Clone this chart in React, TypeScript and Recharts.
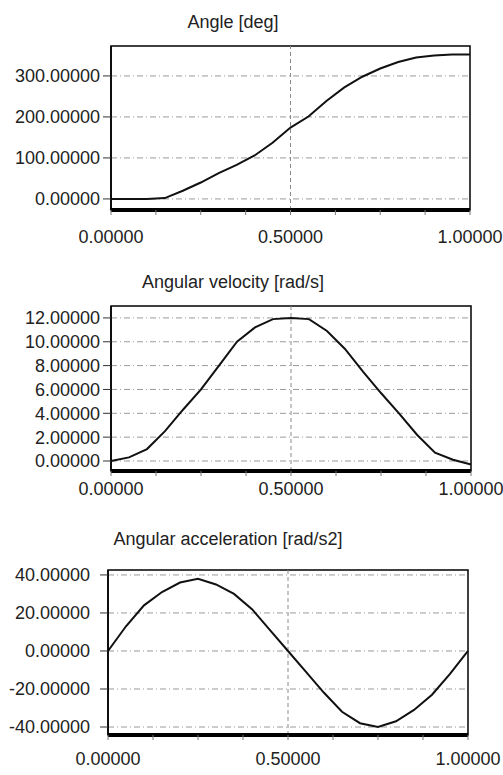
import { CartesianGrid, Line, LineChart, ReferenceArea, ReferenceLine, XAxis, YAxis } from "recharts";

const timeSteps = [0, 0.05, 0.1, 0.15, 0.2, 0.25, 0.3, 0.35, 0.4, 0.45, 0.5, 0.55, 0.6, 0.65, 0.7, 0.75, 0.8, 0.85, 0.9, 0.95, 1.0];
const angleDeg = [0, 0, 0, 2, 20, 40, 63, 83, 106, 137, 174, 201, 239, 272, 298, 318, 334, 345, 350, 352, 352];
const angularVelocity = [0, 0.3, 1.0, 2.5, 4.3, 6.0, 8.0, 10.0, 11.2, 11.9, 12.0, 11.9, 10.9, 9.4, 7.5, 5.7, 4.0, 2.2, 0.7, 0.1, -0.3];
const angularAcceleration = [0, 13, 24, 31, 36, 38, 35, 30, 22, 11, 0, -11, -22, -32, -38, -40, -37, -31, -23, -12, 0];

const xTicks = [0, 0.125, 0.25, 0.375, 0.5, 0.625, 0.75, 0.875, 1];
const xLabelled = [0, 0.5, 1];
const angleTicks = [0, 100, 200, 300];
const velocityTicks = [0, 2, 4, 6, 8, 10, 12];
const accelerationTicks = [-40, -20, 0, 20, 40];

const FONT = "'Liberation Sans', Arial, sans-serif";
const INK = "#222";

// plain svg text so the size is exactly what we ask for
function XTick(props: any) {
  const { x, y, payload } = props;
  if (!xLabelled.includes(payload.value)) return null;
  return (
    <text x={x} y={y} dy="0.71em" textAnchor="middle" fontSize={18} fontFamily={FONT} fill={INK}>
      {Number(payload.value).toFixed(5)}
    </text>
  );
}

function YTick(props: any) {
  const { x, y, payload } = props;
  return (
    <text x={x} y={y} dy="0.355em" textAnchor="end" fontSize={18} fontFamily={FONT} fill={INK}>
      {Number(payload.value).toFixed(5)}
    </text>
  );
}

type PanelProps = {
  title: string;
  titleX: number;
  titleTop: number;
  top: number;
  height: number;
  plotTop: number;
  plotLeft: number;
  plotRight: number;
  axisHeight: number;
  labelGap: number;
  values: number[];
  yTicks: number[];
  yDomain: [number, number];
  yLabelGap: number;
};

function Panel(props: PanelProps) {
  const data = timeSteps.map((t, i) => ({ t, v: props.values[i] }));
  const [yMin, yMax] = props.yDomain;

  return (
    <>
      <div style={{ position: "absolute", top: props.top, left: 0 }}>
        <LineChart
          width={503}
          height={props.height}
          data={data}
          margin={{ top: props.plotTop, right: 503 - props.plotRight, bottom: 0, left: 0 }}
        >
          <CartesianGrid
            vertical={false}
            horizontalValues={props.yTicks}
            stroke="#9a9a9a"
            strokeDasharray="6 3 1 3"
          />
          <ReferenceLine x={0.5} stroke="#8a8a8a" strokeDasharray="4 3" />
          <XAxis
            dataKey="t"
            type="number"
            domain={[0, 1]}
            ticks={xTicks}
            height={props.axisHeight}
            axisLine={{ stroke: "#000", strokeWidth: 4 }}
            tickLine={{ stroke: "#777" }}
            tickSize={5}
            tickMargin={props.labelGap}
            interval={0}
            tick={<XTick />}
          />
          <YAxis
            type="number"
            domain={[yMin, yMax]}
            ticks={props.yTicks}
            width={props.plotLeft}
            allowDataOverflow
            interval={0}
            axisLine={{ stroke: "#000", strokeWidth: 1.5 }}
            tickLine={{ stroke: "#333" }}
            tickSize={8}
            tickMargin={props.yLabelGap}
            tick={<YTick />}
          />
          <ReferenceArea
            x1={0}
            x2={1}
            y1={yMin}
            y2={yMax}
            fill="none"
            stroke="#000"
            strokeWidth={1.5}
          />
          <Line
            type="linear"
            dataKey="v"
            stroke="#111"
            strokeWidth={2}
            dot={false}
            isAnimationActive={false}
          />
        </LineChart>
      </div>
      <div
        style={{
          position: "absolute",
          top: props.titleTop,
          left: props.titleX - 150,
          width: 300,
          textAlign: "center",
          fontFamily: FONT,
          fontSize: 18,
          lineHeight: "18px",
          color: INK
        }}
      >
        {props.title}
      </div>
    </>
  );
}

export default function App() {
  return (
    <div style={{ position: "absolute", top: 0, left: 0, width: 503, height: 775, background: "#fff" }}>
      <Panel
        title="Angle [deg]"
        titleX={233}
        titleTop={13}
        top={0}
        height={250}
        plotTop={46}
        plotLeft={111}
        plotRight={470}
        axisHeight={40}
        labelGap={15}
        values={angleDeg}
        yTicks={angleTicks}
        yDomain={[-27, 373]}
        yLabelGap={3}
      />
      <Panel
        title="Angular velocity [rad/s]"
        titleX={233}
        titleTop={273}
        top={250}
        height={260}
        plotTop={56}
        plotLeft={111}
        plotRight={471}
        axisHeight={39}
        labelGap={6}
        values={angularVelocity}
        yTicks={velocityTicks}
        yDomain={[-0.84, 13.0]}
        yLabelGap={3}
      />
      <Panel
        title="Angular acceleration [rad/s2]"
        titleX={228}
        titleTop={530}
        top={515}
        height={260}
        plotTop={55}
        plotLeft={108}
        plotRight={468}
        axisHeight={40}
        labelGap={12}
        values={angularAcceleration}
        yTicks={accelerationTicks}
        yDomain={[-44.2, 42.6]}
        yLabelGap={10}
      />
    </div>
  );
}
